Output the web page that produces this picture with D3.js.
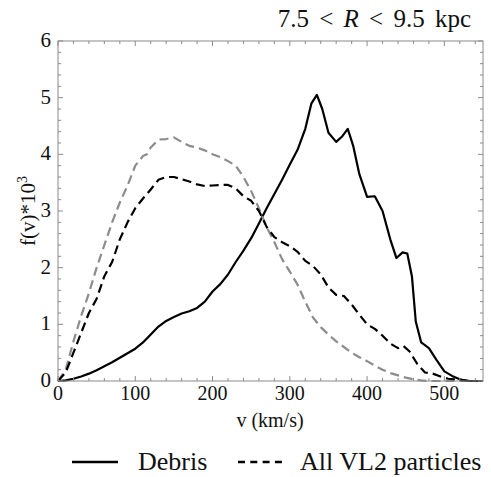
<!DOCTYPE html>
<html>
<head>
    <meta charset='utf-8'>
    <title>Velocity distribution</title>
    <style type="text/css">
        body { margin: 0; background: #fff; }
        .frame { fill: none; stroke: #8a8a8a; stroke-width: 1; }
        .tick { stroke: #8a8a8a; stroke-width: 1; }
        .curve { fill: none; stroke-width: 2.2; stroke-linejoin: round; }
    </style>
</head>
<body>
    <script src="https://cdn.jsdelivr.net/npm/d3@7"></script>

    <div id="svgContainer"></div>

    <script type="text/javascript">

        // Debris (solid black)
        const debrisV = [0,10,20,30,40,50,60,70,80,90,100,110,120,130,140,150,160,170,180,190,200,210,220,230,240,250,260,270,280,290,300,310,320,328,335,342,350,360,368,375,382,390,400,410,420,430,438,446,452,458,463,470,480,490,500,510,520,530,550];
        const debrisF = [0,0.01,0.04,0.08,0.13,0.19,0.26,0.33,0.41,0.49,0.57,0.68,0.82,0.96,1.06,1.13,1.19,1.23,1.29,1.40,1.58,1.71,1.88,2.10,2.30,2.52,2.78,3.05,3.30,3.55,3.82,4.08,4.45,4.90,5.05,4.80,4.38,4.22,4.32,4.45,4.15,3.65,3.25,3.26,3.00,2.50,2.17,2.27,2.25,1.85,1.05,0.68,0.58,0.37,0.17,0.09,0.03,0,0];

        // All VL2 particles (dashed black)
        const allV = [0,10,20,30,40,50,60,70,80,90,100,110,120,130,140,150,160,170,180,190,200,210,220,230,240,250,260,270,280,290,300,310,320,330,340,350,360,370,380,390,400,410,420,430,440,447,455,465,475,485,495,505,520,535,550];
        const allF = [0,0.15,0.5,0.85,1.2,1.45,1.85,2.1,2.5,2.8,3.05,3.22,3.38,3.55,3.60,3.60,3.56,3.52,3.47,3.44,3.45,3.46,3.46,3.40,3.26,3.18,3.0,2.72,2.54,2.45,2.38,2.28,2.12,2.03,1.88,1.65,1.52,1.50,1.35,1.17,1.0,0.92,0.80,0.66,0.58,0.62,0.52,0.30,0.15,0.13,0.08,0.04,0.02,0,0];

        // grey dashed
        const greyV = [0,10,20,30,40,50,60,70,80,90,100,110,115,120,130,140,150,160,170,180,190,200,210,220,230,240,250,260,270,280,290,300,310,320,330,340,350,360,370,380,390,400,410,420,430,440,450,460,470,480,550];
        const greyF = [0,0.2,0.7,1.15,1.55,2.0,2.4,2.8,3.15,3.45,3.8,3.97,4.0,4.12,4.26,4.27,4.30,4.22,4.15,4.12,4.07,4.0,3.95,3.88,3.8,3.6,3.35,3.05,2.72,2.45,2.15,1.93,1.7,1.4,1.12,0.95,0.82,0.7,0.6,0.5,0.42,0.35,0.27,0.2,0.14,0.1,0.06,0.03,0.01,0,0];

        const xTicks = [0, 100, 200, 300, 400, 500];
        const yTicks = [0, 1, 2, 3, 4, 5, 6];

        const width = 491;
        const height = 477;

        const svg = d3.select("#svgContainer").append("svg")
            .attr("width", width)
            .attr("height", height);

        const x = d3.scaleLinear().domain([0, 550]).range([58, 483]);
        const y = d3.scaleLinear().domain([0, 6]).range([381, 41]);

        const series = [
            {v: debrisV, f: debrisF, color: "#000", dash: null},
            {v: greyV, f: greyF, color: "#8c8c8c", dash: "9,5"},
            {v: allV, f: allF, color: "#000", dash: "9,5"}
        ];

        const line = d3.line()
            .x(d => x(d[0]))
            .y(d => y(d[1]));

        svg.append("g")
            .selectAll("path")
            .data(series)
            .join("path")
            .attr("class", "curve")
            .attr("stroke", d => d.color)
            .attr("stroke-dasharray", d => d.dash)
            .attr("d", d => line(d.v.map((v, i) => [v, d.f[i]])));

        // frame with inward ticks on all sides
        const ticks = svg.append("g");
        const xMinor = d3.range(0, 551, 20);
        const yMinor = d3.range(0, 6.01, 0.2);

        xMinor.forEach(v => {
            const len = v % 100 === 0 ? 5 : 3;
            ticks.append("line").attr("class", "tick")
                .attr("x1", x(v)).attr("x2", x(v))
                .attr("y1", y(0)).attr("y2", y(0) - len);
            ticks.append("line").attr("class", "tick")
                .attr("x1", x(v)).attr("x2", x(v))
                .attr("y1", y(6)).attr("y2", y(6) + len);
        });
        yMinor.forEach((f, i) => {
            const len = i % 5 === 0 ? 5 : 3;
            ticks.append("line").attr("class", "tick")
                .attr("x1", x(0)).attr("x2", x(0) + len)
                .attr("y1", y(f)).attr("y2", y(f));
            ticks.append("line").attr("class", "tick")
                .attr("x1", x(550)).attr("x2", x(550) - len)
                .attr("y1", y(f)).attr("y2", y(f));
        });

        svg.append("rect")
            .attr("class", "frame")
            .attr("x", x(0)).attr("y", y(6))
            .attr("width", x(550) - x(0))
            .attr("height", y(0) - y(6));

        // tick labels
        svg.append("g")
            .selectAll("text")
            .data(xTicks)
            .join("text")
            .attr("x", d => x(d))
            .attr("y", 400)
            .attr("text-anchor", "middle")
            .attr("font-size", 20)
            .text(d => d);

        svg.append("g")
            .selectAll("text")
            .data(yTicks)
            .join("text")
            .attr("x", 51)
            .attr("y", d => y(d) + 6)
            .attr("text-anchor", "end")
            .attr("font-size", 21)
            .text(d => d);

        // axis titles
        svg.append("text")
            .attr("x", 270)
            .attr("y", 427)
            .attr("text-anchor", "middle")
            .attr("font-size", 20)
            .text("v (km/s)");

        const yl = svg.append("text")
            .attr("transform", "translate(35,211) rotate(-90)")
            .attr("text-anchor", "middle")
            .attr("font-size", 21);
        yl.append("tspan").text("f(v)*10");
        yl.append("tspan").attr("dy", -8).attr("font-size", 14).text("3");

        // title
        const title = svg.append("text")
            .attr("x", 471)
            .attr("y", 27)
            .attr("text-anchor", "end")
            .attr("font-size", 25)
            .attr("word-spacing", 4);
        title.append("tspan").text("7.5 < ");
        title.append("tspan").attr("font-style", "italic").text("R");
        title.append("tspan").text(" < 9.5 kpc");

        // legend
        const legend = svg.append("g");
        legend.append("line")
            .attr("x1", 72).attr("x2", 118)
            .attr("y1", 462).attr("y2", 462)
            .attr("stroke", "#000").attr("stroke-width", 2.4);
        legend.append("text")
            .attr("x", 138).attr("y", 470)
            .attr("font-size", 26)
            .text("Debris");
        legend.append("line")
            .attr("x1", 238).attr("x2", 282)
            .attr("y1", 462).attr("y2", 462)
            .attr("stroke", "#000").attr("stroke-width", 2.4)
            .attr("stroke-dasharray", "7,5.3");
        legend.append("text")
            .attr("x", 300).attr("y", 470)
            .attr("font-size", 26)
            .text("All VL2 particles");

        svg.selectAll("text, tspan")
            .style("font-family", "'Liberation Serif', serif", "important")
            .attr("fill", "#111");

    </script>
</body>
</html>
